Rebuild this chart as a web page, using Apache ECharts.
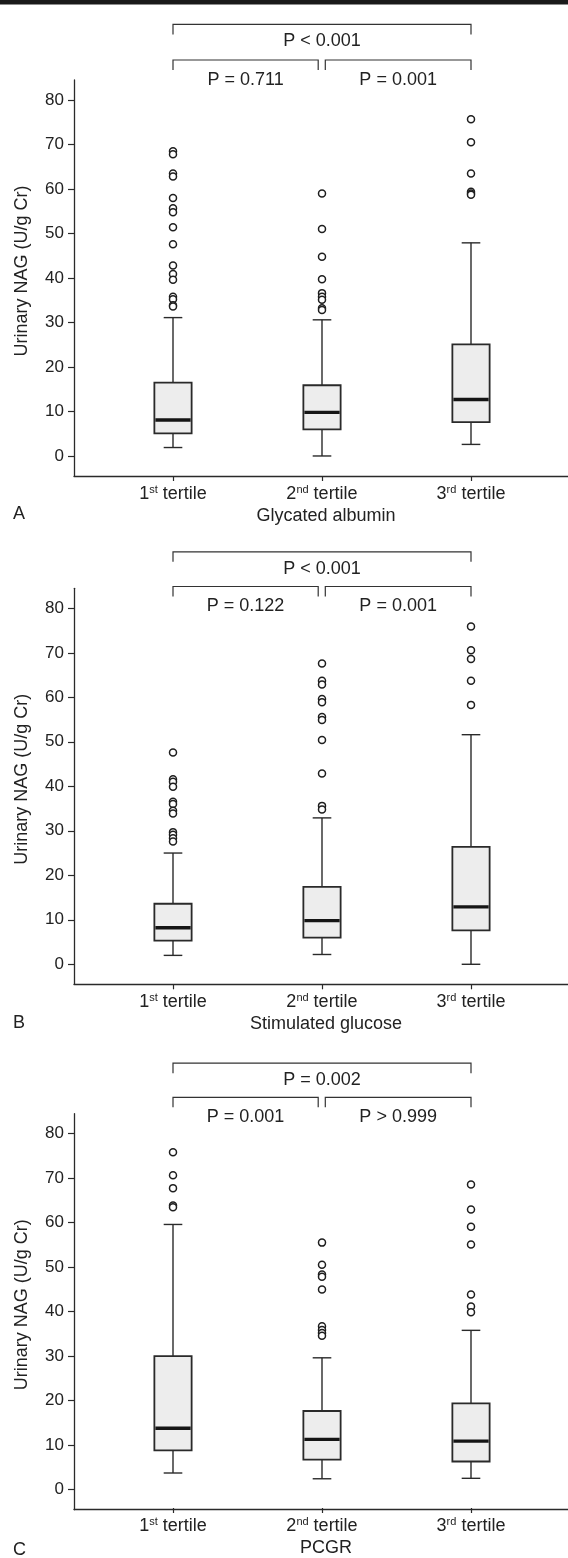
<!DOCTYPE html>
<html><head><meta charset="utf-8">
<script src="https://cdn.jsdelivr.net/npm/echarts@6/dist/echarts.min.js"></script>
<style>html,body{margin:0;padding:0;background:#fff;} #c{width:568px;height:1558px;}</style>
</head><body><div id="c"></div>
<script>
// ---------------- data ----------------
const categories = ['1st tertile', '2nd tertile', '3rd tertile'];
const yTicks = [0, 10, 20, 30, 40, 50, 60, 70, 80];
const panelLetters = ['A', 'B', 'C'];
const xTitles = ['Glycated albumin', 'Stimulated glucose', 'PCGR'];
const yTitle = 'Urinary NAG (U/g Cr)';

// box stats per tertile: [min whisker, Q1, median, Q3, max whisker]
const boxesA = [[1.9, 5.1, 8.1, 16.5, 31.1], [0.0, 6.0, 9.8, 15.9, 30.6], [2.6, 7.6, 12.7, 25.1, 47.9]];
const boxesB = [[2.0, 5.3, 8.2, 13.6, 25.0], [2.2, 6.0, 9.8, 17.4, 32.9], [0.0, 7.6, 12.9, 26.4, 51.6]];
const boxesC = [[3.4, 8.5, 13.5, 29.8, 59.5], [2.1, 6.4, 11.0, 17.4, 29.4], [2.2, 6.0, 10.6, 19.1, 35.6]];

// outliers per tertile
const outliersA = [
  [68.5, 67.8, 63.5, 62.8, 58.0, 55.7, 54.8, 51.4, 47.6, 42.8, 40.9, 39.6, 35.8, 35.2, 33.9, 33.6],
  [59.0, 51.0, 44.8, 39.7, 36.6, 35.8, 35.1, 33.2, 32.8],
  [75.7, 70.5, 63.5, 59.4, 59.0, 58.7]
];
const outliersB = [
  [47.6, 41.6, 41.0, 39.9, 36.5, 36.0, 34.5, 33.9, 29.7, 29.1, 28.3, 27.6],
  [67.6, 63.7, 62.9, 59.6, 58.9, 55.6, 54.9, 50.4, 42.9, 35.6, 34.8],
  [75.9, 70.6, 68.6, 63.7, 58.3]
];
const outliersC = [
  [75.8, 70.6, 67.7, 63.8, 63.4],
  [55.4, 50.4, 48.2, 47.7, 44.8, 36.5, 35.7, 35.0, 34.4],
  [68.5, 62.9, 59.0, 55.0, 43.7, 41.0, 39.7]
];

// pairwise comparisons: [from tertile, to tertile, label]
const comparisonsA = [[0, 2, 'P < 0.001'], [0, 1, 'P = 0.711'], [1, 2, 'P = 0.001']];
const comparisonsB = [[0, 2, 'P < 0.001'], [0, 1, 'P = 0.122'], [1, 2, 'P = 0.001']];
const comparisonsC = [[0, 2, 'P = 0.002'], [0, 1, 'P = 0.001'], [1, 2, 'P > 0.999']];

// ---------------- layout ----------------
const FONT = '"Liberation Sans", Arial, Helvetica, sans-serif';
const TXT = '#222';
const LINE = '#2a2a2a';
const panels = [
  { boxes: boxesA, outliers: outliersA, cmp: comparisonsA, top: 80,    levels: [97.0, 89.0] },
  { boxes: boxesB, outliers: outliersB, cmp: comparisonsB, top: 588.3, levels: [92.7, 84.9] },
  { boxes: boxesC, outliers: outliersC, cmp: comparisonsC, top: 1113.7, levels: [95.9, 88.2] }
];
const GRID_H = 396, Y_MIN = -4.5, Y_MAX = 84.5;

function renderBox(params, api) {
  const x = api.value(0);
  const band = api.size([1, 0])[0];
  const bw = band * 0.25, cw = bw * 0.5;
  const c = v => api.coord([x, v]);
  const pMin = c(api.value(1)), pQ1 = c(api.value(2)), pMed = c(api.value(3)),
        pQ3 = c(api.value(4)), pMax = c(api.value(5));
  const cx = pMin[0];
  const ls = { stroke: LINE, lineWidth: 1.4, fill: null };
  return { type: 'group', children: [
    { type: 'line', shape: { x1: cx, y1: pMax[1], x2: cx, y2: pQ3[1] }, style: ls },
    { type: 'line', shape: { x1: cx, y1: pQ1[1], x2: cx, y2: pMin[1] }, style: ls },
    { type: 'line', shape: { x1: cx - cw / 2, y1: pMax[1], x2: cx + cw / 2, y2: pMax[1] }, style: ls },
    { type: 'line', shape: { x1: cx - cw / 2, y1: pMin[1], x2: cx + cw / 2, y2: pMin[1] }, style: ls },
    { type: 'rect', shape: { x: cx - bw / 2, y: pQ3[1], width: bw, height: pQ1[1] - pQ3[1] },
      style: { fill: '#ededed', stroke: LINE, lineWidth: 1.8 } },
    { type: 'line', shape: { x1: cx - bw / 2 + 1, y1: pMed[1], x2: cx + bw / 2 - 1, y2: pMed[1] },
      style: { stroke: '#151515', lineWidth: 3.4 } }
  ]};
}

function makeBracketRender(cmp) {
  return function (params, api) {
    const from = api.value(0), to = api.value(1), lvl = api.value(2);
    const a = api.coord([from, lvl]), b = api.coord([to, lvl]);
    let x1 = a[0], x2 = b[0];
    if (from === 1) x1 += 3.3;
    if (to === 1) x2 -= 3.8;
    const y = a[1];
    const span = to - from;
    const textOff = span === 2 ? 17 : 20;
    return { type: 'group', children: [
      { type: 'polyline', shape: { points: [[x1, y + 10], [x1, y], [x2, y], [x2, y + 10]] },
        style: { stroke: '#333', lineWidth: 1.2, fill: null } },
      { type: 'text', x: (x1 + x2) / 2, y: y + textOff,
        style: { text: cmp[params.dataIndex][2], fontSize: 18, fontFamily: FONT, fill: TXT,
                 align: 'center', verticalAlign: 'middle' } }
    ]};
  };
}

const grid = [], xAxis = [], yAxis = [], series = [], title = [];
panels.forEach((p, k) => {
  const gBox = k * 2, gAxis = k * 2 + 1;
  grid.push({ left: 98.5, width: 447, top: p.top, height: GRID_H, containLabel: false });
  grid.push({ left: 74, right: 0, top: p.top, height: GRID_H, containLabel: false });
  xAxis.push({
    type: 'category', gridIndex: gBox, data: categories,
    axisLine: { show: false, onZero: false },
    axisTick: { show: true, alignWithLabel: true, length: 5, lineStyle: { color: LINE, width: 1.2 } },
    axisLabel: {
      margin: 8,
      formatter: v => { const m = v.match(/^(\d)(st|nd|rd) (.*)$/); return '{n|' + m[1] + '}{s|' + m[2] + '}{n| ' + m[3] + '}'; },
      rich: {
        n: { fontSize: 18, fontFamily: FONT, color: TXT, lineHeight: 20 },
        s: { fontSize: 11, fontFamily: FONT, color: TXT, lineHeight: 12, verticalAlign: 'top' }
      }
    },
    name: xTitles[k], nameLocation: 'middle', nameGap: 31,
    nameTextStyle: { fontSize: 18, fontFamily: FONT, color: TXT, padding: [0, 0, 0, 8] },
    splitLine: { show: false }
  });
  xAxis.push({
    type: 'value', gridIndex: gAxis, min: 0, max: 1,
    axisLine: { show: true, onZero: false, lineStyle: { color: LINE, width: 1.3 } },
    axisTick: { show: false }, axisLabel: { show: false }, splitLine: { show: false }
  });
  yAxis.push({ type: 'value', gridIndex: gBox, min: Y_MIN, max: Y_MAX, show: false });
  yAxis.push({
    type: 'value', gridIndex: gAxis, min: Y_MIN, max: Y_MAX,
    axisLine: { show: true, onZero: false, lineStyle: { color: LINE, width: 1.3 } },
    axisTick: { show: true, length: 6, customValues: yTicks, lineStyle: { color: LINE, width: 1.2 } },
    axisLabel: { customValues: yTicks, margin: 10, fontSize: 17, fontFamily: FONT, color: TXT },
    splitLine: { show: false },
    name: yTitle, nameLocation: 'middle', nameGap: 43,
    nameTextStyle: { fontSize: 18, fontFamily: FONT, color: TXT, padding: [0, 0, 0, 14] }
  });
  series.push({
    type: 'custom', xAxisIndex: gBox, yAxisIndex: gBox,
    data: p.boxes.map((b, i) => [i].concat(b)),
    encode: { x: 0, y: [1, 2, 3, 4, 5] },
    renderItem: renderBox, silent: true
  });
  const pts = [];
  p.outliers.forEach((arr, i) => arr.forEach(v => pts.push([i, v])));
  series.push({
    type: 'scatter', xAxisIndex: gBox, yAxisIndex: gBox, data: pts,
    symbol: 'circle', symbolSize: 7, silent: true,
    itemStyle: { color: '#fff', borderColor: '#1e1e1e', borderWidth: 1.5, opacity: 1 }
  });
  series.push({
    type: 'custom', xAxisIndex: gBox, yAxisIndex: gBox, clip: false, silent: true,
    data: p.cmp.map(c => [c[0], c[1], (c[1] - c[0] === 2) ? p.levels[0] : p.levels[1]]),
    encode: { x: [0, 1], y: 2 },
    renderItem: makeBracketRender(p.cmp)
  });
});

const letterTops = [505, 1014, 1541];
panelLetters.forEach((L, k) => {
  title.push({ text: L, left: 13, top: letterTops[k], padding: 0,
    textStyle: { fontSize: 18, fontWeight: 'normal', lineHeight: 18, color: TXT, fontFamily: FONT } });
});

const chart = echarts.init(document.getElementById('c'), null, { renderer: 'canvas' });
chart.setOption({
  backgroundColor: '#fff',
  animation: false,
  title, grid, xAxis, yAxis, series,
  graphic: [{ type: 'rect', shape: { x: 0, y: 0, width: 568, height: 4.5 }, style: { fill: '#1a1a1a' } }]
});
</script></body></html>
